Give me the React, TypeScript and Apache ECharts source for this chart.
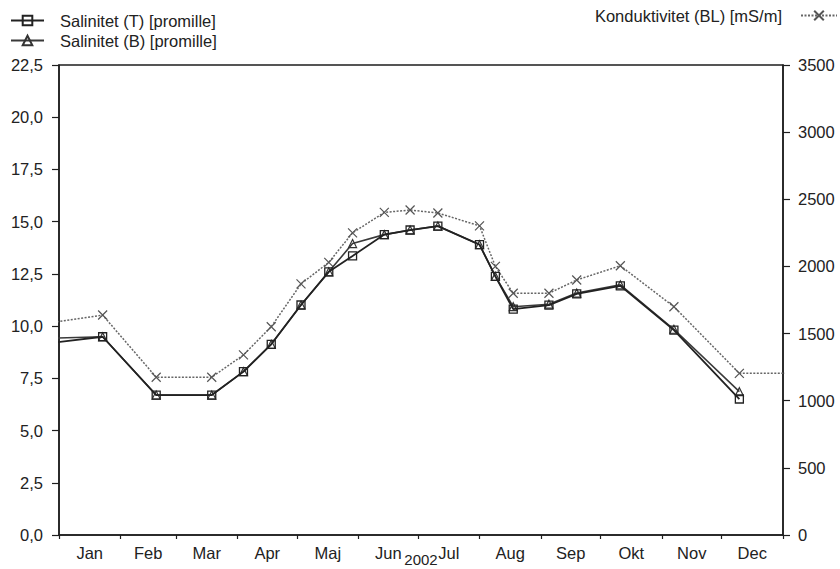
import React, { useEffect, useRef } from "react";
import * as echarts from "echarts";

const monthNames = ["Jan", "Feb", "Mar", "Apr", "Maj", "Jun", "Jul", "Aug", "Sep", "Okt", "Nov", "Dec"];

const sampleDates = [
  "2001-12-10", "2002-01-23", "2002-02-19", "2002-03-19", "2002-04-04", "2002-04-18",
  "2002-05-03", "2002-05-17", "2002-05-29", "2002-06-14", "2002-06-27", "2002-07-11",
  "2002-08-01", "2002-08-09", "2002-08-18", "2002-09-05", "2002-09-19", "2002-10-11",
  "2002-11-07", "2002-12-10",
];

const salinityT = [
  8.99, 9.49, 6.7, 6.7, 7.82, 9.13, 11.01, 12.6, 13.36, 14.38, 14.6, 14.79,
  13.9, 12.38, 10.81, 11.0, 11.54, 11.93, 9.81, 6.51,
];

const salinityB = [
  9.37, 9.49, 6.7, 6.7, 7.82, 9.13, 11.01, 12.6, 13.95, 14.38, 14.6, 14.79,
  13.9, 12.38, 10.93, 11.05, 11.58, 11.98, 9.85, 6.86,
];

const conductivityDates = [...sampleDates, "2003-01-10"];

const conductivity = [
  1541, 1638, 1175, 1175, 1341, 1551, 1870, 2030, 2250, 2402, 2420, 2398,
  2302, 2000, 1800, 1800, 1899, 2005, 1700, 1204, 1204,
];

const leftTicks = { min: 0, max: 22.5, interval: 2.5 };
const rightTicks = { min: 0, max: 3500, interval: 500 };

const DAY = 86400000;
const START = Date.UTC(2002, 0, 1);
// days elapsed since 1 Jan 2002
const dayOf = (s: string) => {
  const [y, m, d] = s.split("-").map(Number);
  return (Date.UTC(y, m - 1, d) - START) / DAY;
};

const FONT = "'Liberation Sans', Arial, sans-serif";
const AX = "#1e1e1e";
const TXT = "#222";

export default function App() {
  const ref = useRef<HTMLDivElement>(null);

  useEffect(() => {
    if (!ref.current) return;
    const chart = echarts.init(ref.current, undefined, { renderer: "svg" });

    const monthStarts = Array.from({ length: 13 }, (_, m) => (Date.UTC(2002, m, 1) - START) / DAY);
    const monthMids = Array.from({ length: 12 }, (_, m) => (monthStarts[m] + monthStarts[m + 1]) / 2);

    const crossPath = "path://M0,0L10,10M10,0L0,10";

    const legendText = {
      fontFamily: FONT,
      fontSize: 16.5,
      color: TXT,
      lineHeight: 16,
    };

    chart.setOption({
      animation: false,
      backgroundColor: "#fff",
      textStyle: { fontFamily: FONT },
      grid: {
        left: 59,
        right: 57,
        top: 65,
        bottom: 34,
        outerBoundsMode: "none",
        containLabel: false,
        show: true,
        borderColor: AX,
        borderWidth: 1.5,
        backgroundColor: "transparent",
      },
      legend: [
        {
          data: ["Salinitet (T) [promille]"],
          left: 10,
          top: 12,
          padding: 0,
          itemWidth: 33,
          itemHeight: 12,
          textStyle: { ...legendText, padding: [0, 0, 0, 11] },
          selectedMode: false,
        },
        {
          data: ["Salinitet (B) [promille]"],
          left: 10,
          top: 32,
          padding: 0,
          itemWidth: 33,
          itemHeight: 12,
          textStyle: { ...legendText, padding: [0, 0, 0, 11] },
          selectedMode: false,
        },
        {
          data: ["Konduktivitet (BL) [mS/m]"],
          right: 2,
          top: 7,
          padding: 0,
          align: "right",
          itemWidth: 36,
          itemHeight: 12,
          textStyle: { ...legendText, padding: [0, 14, 0, 0] },
          selectedMode: false,
        },
      ],
      xAxis: {
        type: "value",
        min: monthStarts[0],
        max: monthStarts[12],
        name: "2002",
        nameLocation: "middle",
        nameGap: 17,
        nameMoveOverlap: false,
        nameTextStyle: { fontFamily: FONT, fontSize: 15, lineHeight: 15, color: TXT },
        axisLine: { show: true, lineStyle: { color: AX, width: 1.5 } },
        axisTick: {
          show: true,
          customValues: monthStarts,
          length: 4,
          lineStyle: { color: AX, width: 1.2 },
        },
        axisLabel: {
          customValues: monthMids,
          margin: 9,
          fontFamily: FONT,
          fontSize: 16.5,
          color: TXT,
          formatter: (v: number) => {
            let idx = 0;
            for (let m = 0; m < 12; m++) if (v >= monthStarts[m]) idx = m;
            return monthNames[idx];
          },
        },
        splitLine: { show: false },
      },
      yAxis: [
        {
          type: "value",
          position: "left",
          min: leftTicks.min,
          max: leftTicks.max,
          interval: leftTicks.interval,
          axisLine: { show: true, lineStyle: { color: AX, width: 1.5 } },
          axisTick: { show: true, length: 7, lineStyle: { color: AX, width: 1.2 } },
          axisLabel: {
            margin: 16,
            fontFamily: FONT,
            fontSize: 16.5,
            color: TXT,
            formatter: (v: number) => v.toFixed(1).replace(".", ","),
          },
          splitLine: { show: false },
        },
        {
          type: "value",
          position: "right",
          min: rightTicks.min,
          max: rightTicks.max,
          interval: rightTicks.interval,
          axisLine: { show: true, lineStyle: { color: AX, width: 1.5 } },
          axisTick: { show: true, length: 7, lineStyle: { color: AX, width: 1.2 } },
          axisLabel: {
            margin: 15,
            fontFamily: FONT,
            fontSize: 16.5,
            color: TXT,
            formatter: (v: number) => String(Math.round(v)),
          },
          splitLine: { show: false },
        },
      ],
      series: [
        {
          name: "Konduktivitet (BL) [mS/m]",
          type: "line",
          yAxisIndex: 1,
          data: conductivityDates.map((d, i) => [dayOf(d), conductivity[i]]),
          symbol: crossPath,
          symbolSize: 9,
          itemStyle: { color: "rgba(0,0,0,0)", borderColor: "#555", borderWidth: 1.2 },
          lineStyle: { color: "#666", width: 1.5, type: [2, 1.5] },
          z: 1,
        },
        {
          name: "Salinitet (B) [promille]",
          type: "line",
          yAxisIndex: 0,
          data: sampleDates.map((d, i) => [dayOf(d), salinityB[i]]),
          symbol: "triangle",
          symbolSize: 8,
          itemStyle: { color: "rgba(255,255,255,0)", borderColor: "#333", borderWidth: 1.2 },
          lineStyle: { color: "#3a3a3a", width: 1.6 },
          z: 2,
        },
        {
          name: "Salinitet (T) [promille]",
          type: "line",
          yAxisIndex: 0,
          data: sampleDates.map((d, i) => [dayOf(d), salinityT[i]]),
          symbol: "rect",
          symbolSize: 8,
          itemStyle: { color: "rgba(255,255,255,0)", borderColor: "#222", borderWidth: 1.3 },
          lineStyle: { color: "#222", width: 1.8 },
          z: 3,
        },
      ],
    });

    return () => chart.dispose();
  }, []);

  return (
    <div
      ref={ref}
      style={{ position: "fixed", left: 0, top: 0, width: 840, height: 569, background: "#fff" }}
    />
  );
}
